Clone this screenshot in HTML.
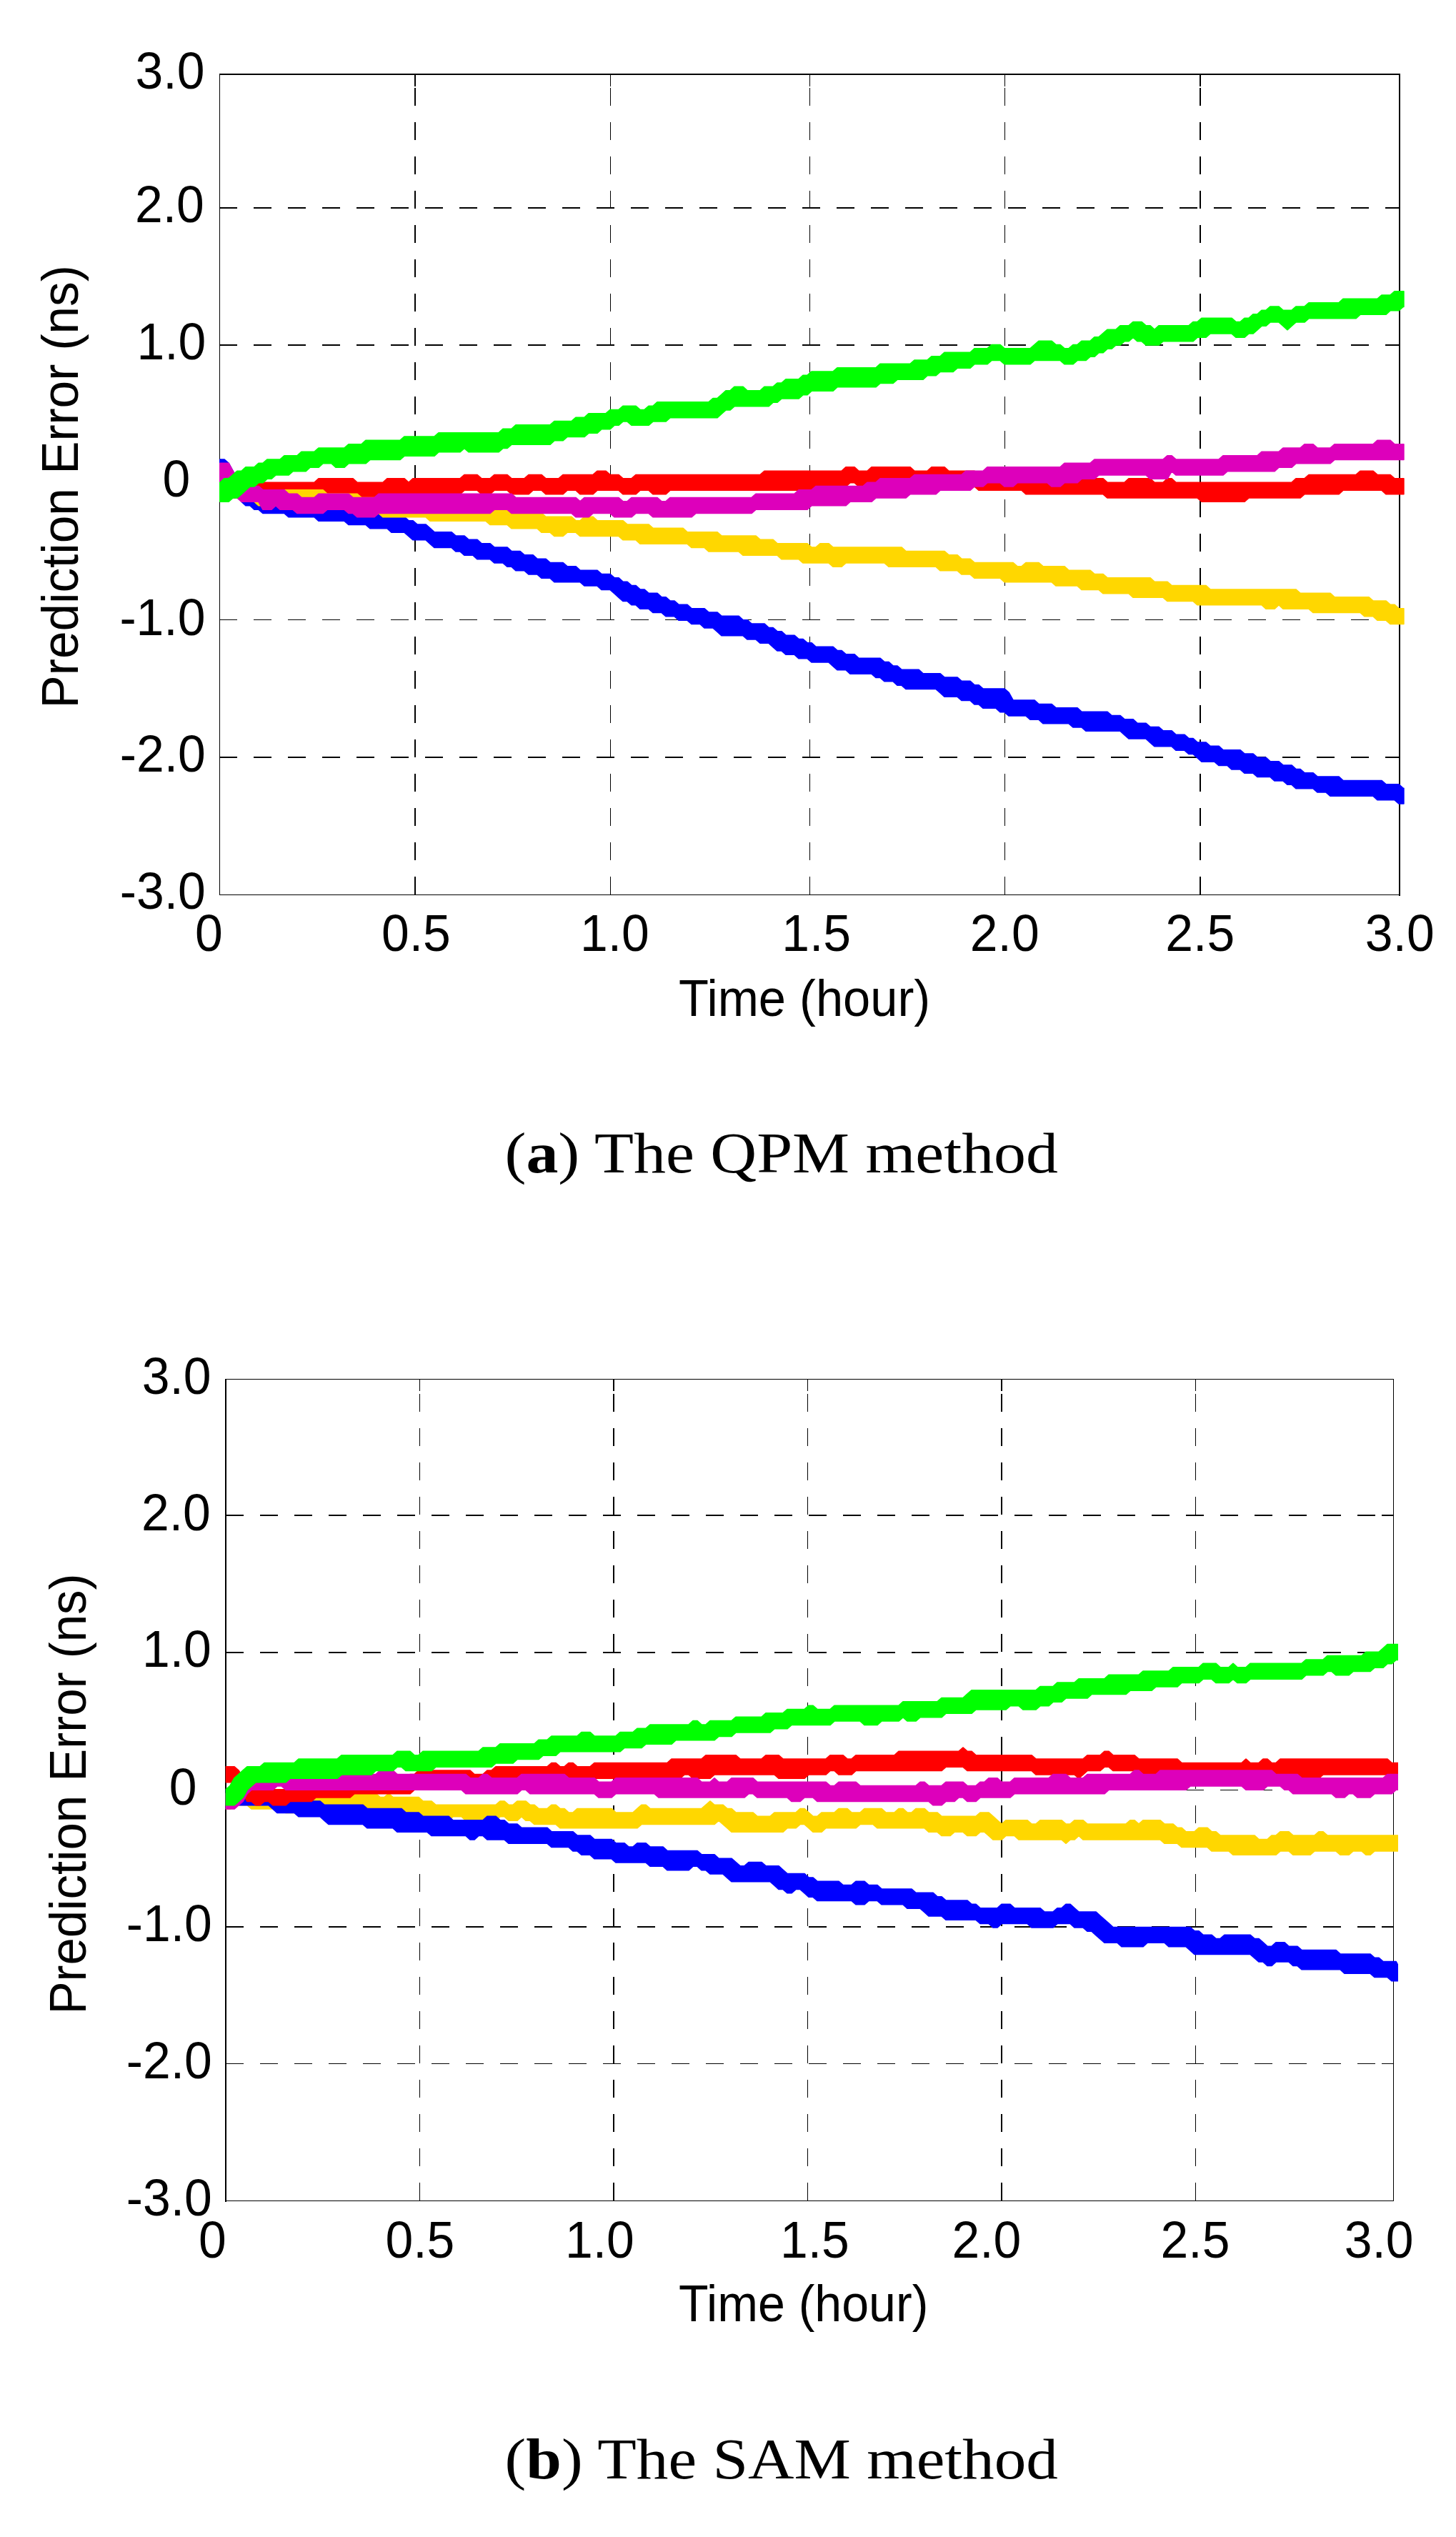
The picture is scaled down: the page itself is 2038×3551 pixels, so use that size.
<!DOCTYPE html>
<html><head><meta charset="utf-8"><title>Prediction error</title>
<style>html,body{margin:0;padding:0;background:#fff}svg{display:block}text{font-family:"Liberation Sans",sans-serif;fill:#000}text.cap{font-family:"Liberation Serif",serif}</style>
</head><body>
<svg width="2038" height="3551" viewBox="0 0 2038 3551">
<rect width="2038" height="3551" fill="#fff"/>
<g stroke="#000" fill="none" shape-rendering="crispEdges">
<line x1="581" y1="1252.2" x2="581" y2="104.4" stroke-width="2" stroke-dasharray="25 23"/>
<line x1="581" y1="104.4" x2="581" y2="120.9" stroke-width="2"/>
<line x1="581" y1="1252.2" x2="581" y2="1235.7" stroke-width="2"/>
<line x1="854.5" y1="1252.2" x2="854.5" y2="104.4" stroke-width="1" stroke-dasharray="25 23"/>
<line x1="854.5" y1="104.4" x2="854.5" y2="120.9" stroke-width="1"/>
<line x1="854.5" y1="1252.2" x2="854.5" y2="1235.7" stroke-width="1"/>
<line x1="1133.5" y1="1252.2" x2="1133.5" y2="104.4" stroke-width="1" stroke-dasharray="25 23"/>
<line x1="1133.5" y1="104.4" x2="1133.5" y2="120.9" stroke-width="1"/>
<line x1="1133.5" y1="1252.2" x2="1133.5" y2="1235.7" stroke-width="1"/>
<line x1="1406.5" y1="1252.2" x2="1406.5" y2="104.4" stroke-width="1" stroke-dasharray="25 23"/>
<line x1="1406.5" y1="104.4" x2="1406.5" y2="120.9" stroke-width="1"/>
<line x1="1406.5" y1="1252.2" x2="1406.5" y2="1235.7" stroke-width="1"/>
<line x1="1680" y1="1252.2" x2="1680" y2="104.4" stroke-width="2" stroke-dasharray="25 23"/>
<line x1="1680" y1="104.4" x2="1680" y2="120.9" stroke-width="2"/>
<line x1="1680" y1="1252.2" x2="1680" y2="1235.7" stroke-width="2"/>
<line x1="306.5" y1="291" x2="1959.2" y2="291" stroke-width="2" stroke-dasharray="25 23"/>
<line x1="1959.2" y1="291" x2="1942.7" y2="291" stroke-width="2"/>
<line x1="306.5" y1="483" x2="1959.2" y2="483" stroke-width="2" stroke-dasharray="25 23"/>
<line x1="1959.2" y1="483" x2="1942.7" y2="483" stroke-width="2"/>
<line x1="306.5" y1="675.5" x2="1959.2" y2="675.5" stroke-width="1" stroke-dasharray="25 23"/>
<line x1="1959.2" y1="675.5" x2="1942.7" y2="675.5" stroke-width="1"/>
<line x1="306.5" y1="867.5" x2="1959.2" y2="867.5" stroke-width="1" stroke-dasharray="25 23"/>
<line x1="1959.2" y1="867.5" x2="1942.7" y2="867.5" stroke-width="1"/>
<line x1="306.5" y1="1060" x2="1959.2" y2="1060" stroke-width="2" stroke-dasharray="25 23"/>
<line x1="1959.2" y1="1060" x2="1942.7" y2="1060" stroke-width="2"/>
</g>
<g stroke="#000" fill="none" shape-rendering="crispEdges" stroke-linecap="square">
<line x1="307.5" y1="104" x2="307.5" y2="1252.5" stroke-width="1"/>
<line x1="307.5" y1="104" x2="1959" y2="104" stroke-width="2"/>
<line x1="1959" y1="104" x2="1959" y2="1252.5" stroke-width="2"/>
<line x1="307.5" y1="1252.5" x2="1959" y2="1252.5" stroke-width="1"/>
</g>
<clipPath id="clip_p1"><rect x="307.0" y="104.4" width="1658.7" height="1147.8"/></clipPath>
<g clip-path="url(#clip_p1)">
<polygon points="308.0,643.3 314.0,643.3 320.0,648.6 326.0,659.4 332.0,670.0 338.0,680.8 344.0,686.1 350.0,686.1 356.0,691.4 362.0,691.4 368.0,696.8 398.0,696.8 404.0,702.1 446.0,702.1 452.0,707.5 482.0,707.5 488.0,712.9 512.0,712.9 518.0,718.2 542.0,718.2 548.0,723.5 566.0,723.5 572.0,728.9 578.0,728.9 584.0,734.2 596.0,734.2 602.0,739.6 608.0,744.9 632.0,744.9 638.0,750.3 650.0,750.3 656.0,755.6 668.0,755.6 674.0,761.0 686.0,761.0 692.0,766.3 710.0,766.3 716.0,771.7 728.0,771.7 734.0,777.0 746.0,777.0 752.0,782.4 764.0,782.4 770.0,787.8 788.0,787.8 794.0,793.1 806.0,793.1 812.0,798.4 836.0,798.4 842.0,803.8 854.0,803.8 860.0,809.1 866.0,809.1 872.0,814.5 878.0,814.5 884.0,819.8 890.0,819.8 896.0,825.2 902.0,825.2 908.0,830.5 920.0,830.5 926.0,835.9 932.0,835.9 938.0,841.2 944.0,841.2 950.0,846.6 962.0,846.6 968.0,851.9 986.0,851.9 992.0,857.3 1004.0,857.3 1010.0,862.6 1034.0,862.6 1040.0,868.0 1046.0,868.0 1052.0,873.3 1070.0,873.3 1076.0,878.7 1082.0,878.7 1088.0,884.0 1094.0,884.0 1100.0,889.4 1112.0,889.4 1118.0,894.8 1124.0,894.8 1130.0,900.1 1136.0,900.1 1142.0,905.4 1166.0,905.4 1172.0,910.8 1178.0,910.8 1184.0,916.1 1196.0,916.1 1202.0,921.5 1232.0,921.5 1238.0,926.8 1244.0,926.8 1250.0,932.2 1256.0,932.2 1262.0,937.5 1286.0,937.5 1292.0,942.9 1316.0,942.9 1322.0,948.2 1340.0,948.2 1346.0,953.6 1358.0,953.6 1364.0,958.9 1370.0,958.9 1376.0,964.3 1406.0,964.3 1412.0,969.6 1418.0,980.3 1448.0,980.3 1454.0,985.7 1472.0,985.7 1478.0,991.0 1508.0,991.0 1514.0,996.4 1550.0,996.4 1556.0,1001.8 1568.0,1001.8 1574.0,1007.1 1586.0,1007.1 1592.0,1012.4 1604.0,1012.4 1610.0,1017.8 1622.0,1017.8 1628.0,1023.1 1640.0,1023.1 1646.0,1028.5 1658.0,1028.5 1664.0,1033.8 1670.0,1033.8 1676.0,1039.2 1688.0,1039.2 1694.0,1044.5 1706.0,1044.5 1712.0,1049.9 1736.0,1049.9 1742.0,1055.2 1754.0,1055.2 1760.0,1060.6 1772.0,1060.6 1778.0,1065.9 1790.0,1065.9 1796.0,1071.3 1808.0,1071.3 1814.0,1076.7 1820.0,1076.7 1826.0,1082.0 1838.0,1082.0 1844.0,1087.3 1874.0,1087.3 1880.0,1092.7 1934.0,1092.7 1940.0,1098.0 1958.0,1098.0 1964.0,1103.4 1965.0,1103.4 1965.0,1124.8 1958.0,1124.8 1952.0,1119.4 1928.0,1119.4 1922.0,1114.1 1862.0,1114.1 1856.0,1108.8 1844.0,1108.8 1838.0,1103.4 1814.0,1103.4 1808.0,1098.0 1802.0,1098.0 1796.0,1092.7 1784.0,1092.7 1778.0,1087.3 1760.0,1087.3 1754.0,1082.0 1742.0,1082.0 1736.0,1076.7 1724.0,1076.7 1718.0,1071.3 1706.0,1071.3 1700.0,1065.9 1682.0,1065.9 1676.0,1060.6 1670.0,1055.2 1664.0,1055.2 1658.0,1049.9 1646.0,1049.9 1640.0,1044.5 1616.0,1044.5 1610.0,1039.2 1604.0,1033.8 1580.0,1033.8 1574.0,1028.5 1568.0,1023.1 1520.0,1023.1 1514.0,1017.8 1502.0,1017.8 1496.0,1012.4 1460.0,1012.4 1454.0,1007.1 1442.0,1007.1 1436.0,1001.8 1412.0,1001.8 1406.0,996.4 1400.0,996.4 1394.0,991.0 1376.0,991.0 1370.0,985.7 1364.0,985.7 1358.0,980.3 1346.0,980.3 1340.0,975.0 1322.0,975.0 1316.0,969.6 1310.0,964.3 1268.0,964.3 1262.0,958.9 1256.0,958.9 1250.0,953.6 1238.0,953.6 1232.0,948.2 1226.0,948.2 1220.0,942.9 1190.0,942.9 1184.0,937.5 1172.0,937.5 1166.0,932.2 1160.0,926.8 1136.0,926.8 1130.0,921.5 1118.0,921.5 1112.0,916.1 1100.0,916.1 1094.0,910.8 1088.0,910.8 1082.0,905.4 1076.0,900.1 1064.0,900.1 1058.0,894.8 1046.0,894.8 1040.0,889.4 1010.0,889.4 1004.0,884.0 998.0,878.7 986.0,878.7 980.0,873.3 968.0,873.3 962.0,868.0 950.0,868.0 944.0,862.6 932.0,862.6 926.0,857.3 914.0,857.3 908.0,851.9 896.0,851.9 890.0,846.6 884.0,846.6 878.0,841.2 872.0,841.2 866.0,835.9 860.0,830.5 854.0,825.2 842.0,825.2 836.0,819.8 818.0,819.8 812.0,814.5 776.0,814.5 770.0,809.1 758.0,809.1 752.0,803.8 740.0,803.8 734.0,798.4 722.0,798.4 716.0,793.1 710.0,793.1 704.0,787.8 692.0,787.8 686.0,782.4 668.0,782.4 662.0,777.0 650.0,777.0 644.0,771.7 638.0,771.7 632.0,766.3 608.0,766.3 602.0,761.0 596.0,755.6 578.0,755.6 572.0,750.3 566.0,744.9 548.0,744.9 542.0,739.6 518.0,739.6 512.0,734.2 488.0,734.2 482.0,728.9 446.0,728.9 440.0,723.5 404.0,723.5 398.0,718.2 368.0,718.2 362.0,712.9 356.0,712.9 350.0,707.5 344.0,707.5 338.0,702.1 332.0,691.4 326.0,680.8 320.0,670.0 314.0,664.7 308.0,664.7" fill="#0000ff" stroke="#0000ff" stroke-width="2" stroke-linejoin="round"/>
<polygon points="308.0,675.4 440.0,675.4 446.0,670.0 494.0,670.0 500.0,675.4 536.0,675.4 542.0,670.0 566.0,670.0 572.0,675.4 578.0,670.0 644.0,670.0 650.0,664.7 668.0,664.7 674.0,670.0 686.0,670.0 692.0,664.7 710.0,664.7 716.0,670.0 734.0,670.0 740.0,664.7 758.0,664.7 764.0,670.0 782.0,670.0 788.0,664.7 830.0,664.7 836.0,659.4 848.0,659.4 854.0,664.7 866.0,664.7 872.0,670.0 884.0,670.0 890.0,664.7 1064.0,664.7 1070.0,659.4 1178.0,659.4 1184.0,654.0 1196.0,654.0 1202.0,659.4 1214.0,659.4 1220.0,654.0 1274.0,654.0 1280.0,659.4 1298.0,659.4 1304.0,654.0 1322.0,654.0 1328.0,659.4 1364.0,659.4 1370.0,664.7 1436.0,664.7 1442.0,670.0 1544.0,670.0 1550.0,675.4 1574.0,675.4 1580.0,670.0 1610.0,670.0 1616.0,675.4 1628.0,675.4 1634.0,670.0 1640.0,670.0 1646.0,675.4 1808.0,675.4 1814.0,670.0 1826.0,670.0 1832.0,664.7 1898.0,664.7 1904.0,659.4 1922.0,659.4 1928.0,664.7 1946.0,664.7 1952.0,670.0 1965.0,670.0 1965.0,691.4 1940.0,691.4 1934.0,686.1 1880.0,686.1 1874.0,691.4 1826.0,691.4 1820.0,696.8 1748.0,696.8 1742.0,702.1 1682.0,702.1 1676.0,696.8 1550.0,696.8 1544.0,691.4 1436.0,691.4 1430.0,686.1 1370.0,686.1 1364.0,680.8 1328.0,680.8 1322.0,675.4 1304.0,675.4 1298.0,680.8 1274.0,680.8 1268.0,675.4 1220.0,675.4 1214.0,680.8 1202.0,680.8 1196.0,675.4 1190.0,675.4 1184.0,680.8 1154.0,680.8 1148.0,686.1 938.0,686.1 932.0,691.4 914.0,691.4 908.0,686.1 896.0,686.1 890.0,691.4 872.0,691.4 866.0,686.1 836.0,686.1 830.0,691.4 812.0,691.4 806.0,686.1 794.0,686.1 788.0,691.4 764.0,691.4 758.0,686.1 746.0,686.1 740.0,691.4 716.0,691.4 710.0,686.1 692.0,686.1 686.0,691.4 674.0,691.4 668.0,686.1 650.0,686.1 644.0,691.4 578.0,691.4 572.0,696.8 566.0,691.4 542.0,691.4 536.0,696.8 500.0,696.8 494.0,691.4 470.0,691.4 464.0,696.8 458.0,691.4 446.0,691.4 440.0,696.8 308.0,696.8" fill="#ff0000" stroke="#ff0000" stroke-width="2" stroke-linejoin="round"/>
<polygon points="308.0,659.4 314.0,659.4 320.0,664.7 326.0,670.0 332.0,675.4 338.0,675.4 344.0,680.8 356.0,680.8 362.0,686.1 452.0,686.1 458.0,691.4 500.0,691.4 506.0,696.8 530.0,696.8 536.0,702.1 596.0,702.1 602.0,707.5 686.0,707.5 692.0,712.9 716.0,712.9 722.0,718.2 758.0,718.2 764.0,723.5 800.0,723.5 806.0,728.9 812.0,728.9 818.0,723.5 830.0,723.5 836.0,728.9 872.0,728.9 878.0,734.2 908.0,734.2 914.0,739.6 956.0,739.6 962.0,744.9 1004.0,744.9 1010.0,750.3 1058.0,750.3 1064.0,755.6 1082.0,755.6 1088.0,761.0 1130.0,761.0 1136.0,766.3 1142.0,766.3 1148.0,761.0 1160.0,761.0 1166.0,766.3 1262.0,766.3 1268.0,771.7 1322.0,771.7 1328.0,777.0 1340.0,777.0 1346.0,782.4 1358.0,782.4 1364.0,787.8 1418.0,787.8 1424.0,793.1 1430.0,793.1 1436.0,787.8 1454.0,787.8 1460.0,793.1 1490.0,793.1 1496.0,798.4 1526.0,798.4 1532.0,803.8 1544.0,803.8 1550.0,809.1 1610.0,809.1 1616.0,814.5 1634.0,814.5 1640.0,819.8 1688.0,819.8 1694.0,825.2 1814.0,825.2 1820.0,830.5 1862.0,830.5 1868.0,835.9 1916.0,835.9 1922.0,841.2 1940.0,841.2 1946.0,846.6 1952.0,846.6 1958.0,851.9 1965.0,851.9 1965.0,873.3 1946.0,873.3 1940.0,868.0 1928.0,868.0 1922.0,862.6 1910.0,862.6 1904.0,857.3 1838.0,857.3 1832.0,851.9 1796.0,851.9 1790.0,846.6 1784.0,851.9 1772.0,851.9 1766.0,846.6 1676.0,846.6 1670.0,841.2 1634.0,841.2 1628.0,835.9 1586.0,835.9 1580.0,830.5 1544.0,830.5 1538.0,825.2 1514.0,825.2 1508.0,819.8 1478.0,819.8 1472.0,814.5 1406.0,814.5 1400.0,809.1 1364.0,809.1 1358.0,803.8 1346.0,803.8 1340.0,798.4 1316.0,798.4 1310.0,793.1 1244.0,793.1 1238.0,787.8 1184.0,787.8 1178.0,793.1 1166.0,793.1 1160.0,787.8 1124.0,787.8 1118.0,782.4 1094.0,782.4 1088.0,777.0 1040.0,777.0 1034.0,771.7 992.0,771.7 986.0,766.3 968.0,766.3 962.0,761.0 896.0,761.0 890.0,755.6 872.0,755.6 866.0,750.3 812.0,750.3 806.0,744.9 794.0,744.9 788.0,750.3 776.0,750.3 770.0,744.9 758.0,744.9 752.0,739.6 716.0,739.6 710.0,734.2 686.0,734.2 680.0,728.9 602.0,728.9 596.0,723.5 536.0,723.5 530.0,718.2 500.0,718.2 494.0,712.9 452.0,712.9 446.0,707.5 362.0,707.5 356.0,702.1 344.0,702.1 338.0,696.8 332.0,696.8 326.0,691.4 320.0,686.1 314.0,680.8 308.0,680.8" fill="#ffd700" stroke="#ffd700" stroke-width="2" stroke-linejoin="round"/>
<polygon points="308.0,648.6 320.0,648.6 326.0,659.4 332.0,670.0 338.0,675.4 344.0,680.8 362.0,680.8 368.0,686.1 398.0,686.1 404.0,691.4 416.0,691.4 422.0,696.8 440.0,696.8 446.0,691.4 488.0,691.4 494.0,696.8 524.0,696.8 530.0,691.4 716.0,691.4 722.0,696.8 806.0,696.8 812.0,702.1 818.0,696.8 866.0,696.8 872.0,702.1 878.0,702.1 884.0,696.8 920.0,696.8 926.0,702.1 932.0,702.1 938.0,696.8 1052.0,696.8 1058.0,691.4 1112.0,691.4 1118.0,686.1 1136.0,686.1 1142.0,680.8 1208.0,680.8 1214.0,675.4 1226.0,675.4 1232.0,670.0 1274.0,670.0 1280.0,664.7 1346.0,664.7 1352.0,659.4 1376.0,659.4 1382.0,654.0 1484.0,654.0 1490.0,648.6 1526.0,648.6 1532.0,643.3 1628.0,643.3 1634.0,637.9 1640.0,637.9 1646.0,643.3 1706.0,643.3 1712.0,637.9 1760.0,637.9 1766.0,632.6 1790.0,632.6 1796.0,627.2 1820.0,627.2 1826.0,621.9 1838.0,621.9 1844.0,627.2 1862.0,627.2 1868.0,621.9 1922.0,621.9 1928.0,616.5 1946.0,616.5 1952.0,621.9 1965.0,621.9 1965.0,643.3 1868.0,643.3 1862.0,648.6 1814.0,648.6 1808.0,654.0 1790.0,654.0 1784.0,659.4 1718.0,659.4 1712.0,664.7 1646.0,664.7 1640.0,659.4 1634.0,670.0 1610.0,670.0 1604.0,664.7 1538.0,664.7 1532.0,670.0 1514.0,670.0 1508.0,675.4 1490.0,675.4 1484.0,680.8 1472.0,680.8 1466.0,675.4 1424.0,675.4 1418.0,680.8 1406.0,680.8 1400.0,675.4 1382.0,675.4 1376.0,680.8 1364.0,680.8 1358.0,686.1 1316.0,686.1 1310.0,691.4 1274.0,691.4 1268.0,696.8 1226.0,696.8 1220.0,702.1 1190.0,702.1 1184.0,707.5 1136.0,707.5 1130.0,712.9 1058.0,712.9 1052.0,718.2 974.0,718.2 968.0,723.5 914.0,723.5 908.0,718.2 890.0,718.2 884.0,723.5 860.0,723.5 854.0,718.2 830.0,718.2 824.0,723.5 806.0,723.5 800.0,718.2 716.0,718.2 710.0,712.9 692.0,712.9 686.0,718.2 530.0,718.2 524.0,723.5 500.0,723.5 494.0,718.2 488.0,718.2 482.0,712.9 458.0,712.9 452.0,718.2 416.0,718.2 410.0,712.9 392.0,712.9 386.0,707.5 380.0,712.9 368.0,712.9 362.0,702.1 338.0,702.1 332.0,696.8 326.0,686.1 320.0,680.8 314.0,675.4 308.0,675.4" fill="#dd00bb" stroke="#dd00bb" stroke-width="2" stroke-linejoin="round"/>
<polygon points="308.0,675.4 314.0,670.0 320.0,670.0 326.0,664.7 332.0,659.4 338.0,659.4 344.0,654.0 356.0,654.0 362.0,648.6 368.0,648.6 374.0,643.3 392.0,643.3 398.0,637.9 416.0,637.9 422.0,632.6 440.0,632.6 446.0,627.2 482.0,627.2 488.0,621.9 506.0,621.9 512.0,616.5 560.0,616.5 566.0,611.2 608.0,611.2 614.0,605.9 698.0,605.9 704.0,600.5 716.0,600.5 722.0,595.1 770.0,595.1 776.0,589.8 800.0,589.8 806.0,584.5 818.0,584.5 824.0,579.1 848.0,579.1 854.0,573.8 866.0,573.8 872.0,568.4 890.0,568.4 896.0,573.8 902.0,573.8 908.0,568.4 914.0,568.4 920.0,563.0 992.0,563.0 998.0,557.7 1004.0,557.7 1010.0,552.4 1016.0,547.0 1022.0,547.0 1028.0,541.6 1040.0,541.6 1046.0,547.0 1064.0,547.0 1070.0,541.6 1082.0,541.6 1088.0,536.3 1094.0,536.3 1100.0,531.0 1118.0,531.0 1124.0,525.6 1130.0,525.6 1136.0,520.2 1166.0,520.2 1172.0,514.9 1226.0,514.9 1232.0,509.5 1274.0,509.5 1280.0,504.2 1298.0,504.2 1304.0,498.9 1316.0,498.9 1322.0,493.5 1358.0,493.5 1364.0,488.1 1382.0,488.1 1388.0,482.8 1400.0,482.8 1406.0,488.1 1442.0,488.1 1448.0,482.8 1454.0,477.4 1472.0,477.4 1478.0,482.8 1484.0,482.8 1490.0,488.1 1496.0,488.1 1502.0,482.8 1508.0,482.8 1514.0,477.4 1526.0,477.4 1532.0,472.1 1538.0,472.1 1544.0,466.8 1550.0,461.4 1562.0,461.4 1568.0,456.0 1580.0,456.0 1586.0,450.7 1598.0,450.7 1604.0,456.0 1610.0,456.0 1616.0,461.4 1622.0,456.0 1664.0,456.0 1670.0,450.7 1676.0,450.7 1682.0,445.4 1724.0,445.4 1730.0,450.7 1736.0,450.7 1742.0,445.4 1748.0,445.4 1754.0,440.0 1760.0,440.0 1766.0,434.6 1772.0,434.6 1778.0,429.3 1790.0,429.3 1796.0,434.6 1808.0,434.6 1814.0,429.3 1826.0,429.3 1832.0,423.9 1874.0,423.9 1880.0,418.6 1928.0,418.6 1934.0,413.2 1946.0,413.2 1952.0,407.9 1965.0,407.9 1965.0,429.3 1964.0,429.3 1958.0,434.6 1946.0,434.6 1940.0,440.0 1904.0,440.0 1898.0,445.4 1832.0,445.4 1826.0,450.7 1814.0,450.7 1808.0,456.0 1802.0,461.4 1796.0,456.0 1790.0,450.7 1778.0,450.7 1772.0,456.0 1766.0,456.0 1760.0,461.4 1754.0,466.8 1748.0,466.8 1742.0,472.1 1730.0,472.1 1724.0,466.8 1694.0,466.8 1688.0,472.1 1676.0,472.1 1670.0,477.4 1628.0,477.4 1622.0,482.8 1604.0,482.8 1598.0,477.4 1592.0,477.4 1586.0,472.1 1580.0,477.4 1574.0,477.4 1568.0,482.8 1562.0,482.8 1556.0,488.1 1550.0,488.1 1544.0,493.5 1538.0,493.5 1532.0,498.9 1526.0,498.9 1520.0,504.2 1508.0,504.2 1502.0,509.5 1490.0,509.5 1484.0,504.2 1448.0,504.2 1442.0,509.5 1406.0,509.5 1400.0,504.2 1388.0,504.2 1382.0,509.5 1364.0,509.5 1358.0,514.9 1340.0,514.9 1334.0,520.2 1316.0,520.2 1310.0,525.6 1298.0,525.6 1292.0,531.0 1256.0,531.0 1250.0,536.3 1232.0,536.3 1226.0,541.6 1172.0,541.6 1166.0,547.0 1136.0,547.0 1130.0,552.4 1124.0,552.4 1118.0,557.7 1094.0,557.7 1088.0,563.0 1082.0,563.0 1076.0,568.4 1028.0,568.4 1022.0,573.8 1016.0,573.8 1010.0,579.1 1004.0,584.5 938.0,584.5 932.0,589.8 914.0,589.8 908.0,595.1 884.0,595.1 878.0,589.8 872.0,589.8 866.0,595.1 860.0,595.1 854.0,600.5 842.0,600.5 836.0,605.9 824.0,605.9 818.0,611.2 794.0,611.2 788.0,616.5 776.0,616.5 770.0,621.9 716.0,621.9 710.0,627.2 704.0,627.2 698.0,632.6 656.0,632.6 650.0,627.2 644.0,632.6 614.0,632.6 608.0,637.9 566.0,637.9 560.0,643.3 518.0,643.3 512.0,648.6 488.0,648.6 482.0,654.0 470.0,654.0 464.0,648.6 452.0,648.6 446.0,654.0 434.0,654.0 428.0,659.4 410.0,659.4 404.0,664.7 386.0,664.7 380.0,670.0 374.0,670.0 368.0,675.4 362.0,675.4 356.0,680.8 350.0,680.8 344.0,686.1 338.0,691.4 332.0,696.8 326.0,696.8 320.0,702.1 308.0,702.1" fill="#00ff00" stroke="#00ff00" stroke-width="2" stroke-linejoin="round"/>
</g>
<text transform="translate(189.6,124.0) scale(1.01,1.05)" font-size="69">3.0</text>
<text transform="translate(188.9,310.7) scale(1.01,1.05)" font-size="69">2.0</text>
<text transform="translate(191.4,503.0) scale(1.01,1.05)" font-size="69">1.0</text>
<text transform="translate(227.6,695.2) scale(1.01,1.05)" font-size="69">0</text>
<text transform="translate(167.4,888.6) scale(1.01,1.05)" font-size="69">-1.0</text>
<text transform="translate(167.8,1079.9) scale(1.01,1.05)" font-size="69">-2.0</text>
<text transform="translate(167.8,1271.8) scale(1.01,1.05)" font-size="69">-3.0</text>
<text transform="translate(273.0,1330.5) scale(1.01,1.05)" font-size="69">0</text>
<text transform="translate(534.0,1330.5) scale(1.01,1.05)" font-size="69">0.5</text>
<text transform="translate(812.0,1330.5) scale(1.01,1.05)" font-size="69">1.0</text>
<text transform="translate(1094.2,1330.5) scale(1.01,1.05)" font-size="69">1.5</text>
<text transform="translate(1357.8,1330.5) scale(1.01,1.05)" font-size="69">2.0</text>
<text transform="translate(1631.3,1330.5) scale(1.01,1.05)" font-size="69">2.5</text>
<text transform="translate(1910.8,1330.5) scale(1.01,1.05)" font-size="69">3.0</text>
<text transform="translate(950.0,1422.0) scale(0.995,1.05)" font-size="69">Time (hour)</text>
<text transform="translate(109.4,991.4) rotate(-90) scale(1.005,1.04)" font-size="69">Prediction Error (ns)</text>
<g stroke="#000" fill="none" shape-rendering="crispEdges">
<line x1="587.5" y1="3080.3" x2="587.5" y2="1930.2" stroke-width="1" stroke-dasharray="25 23"/>
<line x1="587.5" y1="1930.2" x2="587.5" y2="1946.7" stroke-width="1"/>
<line x1="587.5" y1="3080.3" x2="587.5" y2="3063.8" stroke-width="1"/>
<line x1="859" y1="3080.3" x2="859" y2="1930.2" stroke-width="2" stroke-dasharray="25 23"/>
<line x1="859" y1="1930.2" x2="859" y2="1946.7" stroke-width="2"/>
<line x1="859" y1="3080.3" x2="859" y2="3063.8" stroke-width="2"/>
<line x1="1130.5" y1="3080.3" x2="1130.5" y2="1930.2" stroke-width="1" stroke-dasharray="25 23"/>
<line x1="1130.5" y1="1930.2" x2="1130.5" y2="1946.7" stroke-width="1"/>
<line x1="1130.5" y1="3080.3" x2="1130.5" y2="3063.8" stroke-width="1"/>
<line x1="1402" y1="3080.3" x2="1402" y2="1930.2" stroke-width="2" stroke-dasharray="25 23"/>
<line x1="1402" y1="1930.2" x2="1402" y2="1946.7" stroke-width="2"/>
<line x1="1402" y1="3080.3" x2="1402" y2="3063.8" stroke-width="2"/>
<line x1="1673.5" y1="3080.3" x2="1673.5" y2="1930.2" stroke-width="1" stroke-dasharray="25 23"/>
<line x1="1673.5" y1="1930.2" x2="1673.5" y2="1946.7" stroke-width="1"/>
<line x1="1673.5" y1="3080.3" x2="1673.5" y2="3063.8" stroke-width="1"/>
<line x1="316.2" y1="2121" x2="1950.5" y2="2121" stroke-width="2" stroke-dasharray="25 23"/>
<line x1="1950.5" y1="2121" x2="1934.0" y2="2121" stroke-width="2"/>
<line x1="316.2" y1="2313" x2="1950.5" y2="2313" stroke-width="2" stroke-dasharray="25 23"/>
<line x1="1950.5" y1="2313" x2="1934.0" y2="2313" stroke-width="2"/>
<line x1="316.2" y1="2505.5" x2="1950.5" y2="2505.5" stroke-width="1" stroke-dasharray="25 23"/>
<line x1="1950.5" y1="2505.5" x2="1934.0" y2="2505.5" stroke-width="1"/>
<line x1="316.2" y1="2697" x2="1950.5" y2="2697" stroke-width="2" stroke-dasharray="25 23"/>
<line x1="1950.5" y1="2697" x2="1934.0" y2="2697" stroke-width="2"/>
<line x1="316.2" y1="2888.5" x2="1950.5" y2="2888.5" stroke-width="1" stroke-dasharray="25 23"/>
<line x1="1950.5" y1="2888.5" x2="1934.0" y2="2888.5" stroke-width="1"/>
</g>
<g stroke="#000" fill="none" shape-rendering="crispEdges" stroke-linecap="square">
<line x1="316" y1="1930.5" x2="316" y2="3080.5" stroke-width="2"/>
<line x1="316" y1="1930.5" x2="1950.5" y2="1930.5" stroke-width="1"/>
<line x1="1950.5" y1="1930.5" x2="1950.5" y2="3080.5" stroke-width="1"/>
<line x1="316" y1="3080.5" x2="1950.5" y2="3080.5" stroke-width="1"/>
</g>
<clipPath id="clip_p2"><rect x="315.7" y="1930.2" width="1641.3" height="1150.1000000000001"/></clipPath>
<g clip-path="url(#clip_p2)">
<polygon points="316.0,2510.4 322.0,2510.4 328.0,2505.1 346.0,2505.1 352.0,2510.4 400.0,2510.4 406.0,2515.8 490.0,2515.8 496.0,2510.4 526.0,2510.4 532.0,2515.8 538.0,2515.8 544.0,2510.4 550.0,2515.8 586.0,2515.8 592.0,2521.2 604.0,2521.2 610.0,2526.5 694.0,2526.5 700.0,2521.2 706.0,2521.2 712.0,2526.5 718.0,2526.5 724.0,2521.2 736.0,2521.2 742.0,2526.5 748.0,2526.5 754.0,2531.8 766.0,2531.8 772.0,2526.5 778.0,2526.5 784.0,2531.8 790.0,2531.8 796.0,2537.2 802.0,2537.2 808.0,2531.8 856.0,2531.8 862.0,2537.2 886.0,2537.2 892.0,2531.8 898.0,2526.5 904.0,2526.5 910.0,2531.8 982.0,2531.8 988.0,2526.5 994.0,2521.2 1000.0,2526.5 1012.0,2526.5 1018.0,2531.8 1024.0,2531.8 1030.0,2537.2 1054.0,2537.2 1060.0,2542.5 1078.0,2542.5 1084.0,2537.2 1114.0,2537.2 1120.0,2531.8 1126.0,2531.8 1132.0,2537.2 1138.0,2542.5 1144.0,2542.5 1150.0,2537.2 1168.0,2537.2 1174.0,2531.8 1186.0,2531.8 1192.0,2537.2 1204.0,2537.2 1210.0,2531.8 1234.0,2531.8 1240.0,2537.2 1252.0,2537.2 1258.0,2531.8 1264.0,2531.8 1270.0,2537.2 1276.0,2537.2 1282.0,2531.8 1294.0,2531.8 1300.0,2537.2 1312.0,2537.2 1318.0,2542.5 1366.0,2542.5 1372.0,2537.2 1384.0,2537.2 1390.0,2542.5 1396.0,2547.9 1402.0,2553.2 1408.0,2547.9 1438.0,2547.9 1444.0,2553.2 1450.0,2553.2 1456.0,2547.9 1486.0,2547.9 1492.0,2553.2 1498.0,2553.2 1504.0,2547.9 1516.0,2547.9 1522.0,2553.2 1576.0,2553.2 1582.0,2547.9 1588.0,2547.9 1594.0,2553.2 1600.0,2547.9 1624.0,2547.9 1630.0,2553.2 1642.0,2553.2 1648.0,2558.6 1654.0,2558.6 1660.0,2563.9 1672.0,2563.9 1678.0,2558.6 1690.0,2558.6 1696.0,2563.9 1702.0,2563.9 1708.0,2569.3 1756.0,2569.3 1762.0,2574.7 1774.0,2574.7 1780.0,2569.3 1786.0,2569.3 1792.0,2563.9 1804.0,2563.9 1810.0,2569.3 1840.0,2569.3 1846.0,2563.9 1852.0,2563.9 1858.0,2569.3 1957.0,2569.3 1957.0,2590.7 1924.0,2590.7 1918.0,2596.0 1912.0,2596.0 1906.0,2590.7 1894.0,2590.7 1888.0,2596.0 1876.0,2596.0 1870.0,2590.7 1840.0,2590.7 1834.0,2596.0 1810.0,2596.0 1804.0,2590.7 1792.0,2590.7 1786.0,2596.0 1726.0,2596.0 1720.0,2590.7 1696.0,2590.7 1690.0,2585.3 1654.0,2585.3 1648.0,2580.0 1630.0,2580.0 1624.0,2574.7 1516.0,2574.7 1510.0,2569.3 1504.0,2574.7 1498.0,2574.7 1492.0,2580.0 1486.0,2574.7 1426.0,2574.7 1420.0,2569.3 1408.0,2569.3 1402.0,2574.7 1390.0,2574.7 1384.0,2569.3 1378.0,2563.9 1372.0,2563.9 1366.0,2569.3 1354.0,2569.3 1348.0,2563.9 1336.0,2563.9 1330.0,2569.3 1318.0,2569.3 1312.0,2563.9 1300.0,2563.9 1294.0,2558.6 1228.0,2558.6 1222.0,2553.2 1204.0,2553.2 1198.0,2558.6 1156.0,2558.6 1150.0,2563.9 1138.0,2563.9 1132.0,2558.6 1126.0,2553.2 1120.0,2553.2 1114.0,2558.6 1102.0,2558.6 1096.0,2563.9 1024.0,2563.9 1018.0,2558.6 1012.0,2553.2 1006.0,2547.9 1000.0,2553.2 898.0,2553.2 892.0,2558.6 784.0,2558.6 778.0,2553.2 748.0,2553.2 742.0,2547.9 736.0,2547.9 730.0,2542.5 724.0,2547.9 712.0,2547.9 706.0,2542.5 700.0,2542.5 694.0,2547.9 652.0,2547.9 646.0,2542.5 634.0,2542.5 628.0,2547.9 616.0,2547.9 610.0,2542.5 568.0,2542.5 562.0,2537.2 550.0,2537.2 544.0,2531.8 538.0,2537.2 532.0,2537.2 526.0,2531.8 496.0,2531.8 490.0,2537.2 400.0,2537.2 394.0,2531.8 352.0,2531.8 346.0,2526.5 328.0,2526.5 322.0,2531.8 316.0,2531.8" fill="#ffd700" stroke="#ffd700" stroke-width="2" stroke-linejoin="round"/>
<polygon points="316.0,2505.1 322.0,2510.4 352.0,2510.4 358.0,2515.8 382.0,2515.8 388.0,2521.2 418.0,2521.2 424.0,2515.8 430.0,2521.2 448.0,2521.2 454.0,2526.5 508.0,2526.5 514.0,2531.8 562.0,2531.8 568.0,2537.2 586.0,2537.2 592.0,2542.5 628.0,2542.5 634.0,2547.9 676.0,2547.9 682.0,2542.5 694.0,2542.5 700.0,2547.9 706.0,2547.9 712.0,2553.2 724.0,2553.2 730.0,2558.6 766.0,2558.6 772.0,2563.9 802.0,2563.9 808.0,2569.3 826.0,2569.3 832.0,2574.7 856.0,2574.7 862.0,2580.0 874.0,2580.0 880.0,2585.3 886.0,2585.3 892.0,2580.0 904.0,2580.0 910.0,2585.3 928.0,2585.3 934.0,2590.7 976.0,2590.7 982.0,2596.0 1000.0,2596.0 1006.0,2601.4 1024.0,2601.4 1030.0,2606.8 1036.0,2612.1 1042.0,2612.1 1048.0,2606.8 1066.0,2606.8 1072.0,2612.1 1090.0,2612.1 1096.0,2617.4 1102.0,2622.8 1126.0,2622.8 1132.0,2628.2 1138.0,2628.2 1144.0,2633.5 1174.0,2633.5 1180.0,2638.8 1192.0,2638.8 1198.0,2633.5 1210.0,2633.5 1216.0,2638.8 1228.0,2638.8 1234.0,2644.2 1276.0,2644.2 1282.0,2649.5 1306.0,2649.5 1312.0,2654.9 1318.0,2654.9 1324.0,2660.2 1354.0,2660.2 1360.0,2665.6 1366.0,2665.6 1372.0,2670.9 1396.0,2670.9 1402.0,2665.6 1414.0,2665.6 1420.0,2670.9 1456.0,2670.9 1462.0,2676.3 1474.0,2676.3 1480.0,2670.9 1486.0,2670.9 1492.0,2665.6 1498.0,2665.6 1504.0,2670.9 1510.0,2676.3 1534.0,2676.3 1540.0,2681.7 1546.0,2687.0 1552.0,2692.3 1558.0,2697.7 1666.0,2697.7 1672.0,2703.0 1678.0,2703.0 1684.0,2708.4 1696.0,2708.4 1702.0,2713.8 1708.0,2713.8 1714.0,2708.4 1750.0,2708.4 1756.0,2713.8 1762.0,2713.8 1768.0,2719.1 1774.0,2724.4 1780.0,2724.4 1786.0,2719.1 1798.0,2719.1 1804.0,2724.4 1816.0,2724.4 1822.0,2729.8 1870.0,2729.8 1876.0,2735.2 1918.0,2735.2 1924.0,2740.5 1930.0,2740.5 1936.0,2745.8 1954.0,2745.8 1957.0,2751.2 1957.0,2772.6 1948.0,2772.6 1942.0,2767.2 1924.0,2767.2 1918.0,2761.9 1882.0,2761.9 1876.0,2756.5 1822.0,2756.5 1816.0,2751.2 1810.0,2751.2 1804.0,2745.8 1786.0,2745.8 1780.0,2751.2 1774.0,2751.2 1768.0,2745.8 1762.0,2745.8 1756.0,2740.5 1750.0,2735.2 1672.0,2735.2 1666.0,2729.8 1660.0,2724.4 1636.0,2724.4 1630.0,2719.1 1606.0,2719.1 1600.0,2724.4 1570.0,2724.4 1564.0,2719.1 1546.0,2719.1 1540.0,2713.8 1534.0,2708.4 1528.0,2703.0 1522.0,2703.0 1516.0,2697.7 1504.0,2697.7 1498.0,2692.3 1480.0,2692.3 1474.0,2697.7 1444.0,2697.7 1438.0,2692.3 1402.0,2692.3 1396.0,2697.7 1390.0,2697.7 1384.0,2692.3 1372.0,2692.3 1366.0,2687.0 1324.0,2687.0 1318.0,2681.7 1300.0,2681.7 1294.0,2676.3 1288.0,2670.9 1270.0,2670.9 1264.0,2665.6 1234.0,2665.6 1228.0,2660.2 1216.0,2660.2 1210.0,2665.6 1198.0,2665.6 1192.0,2660.2 1144.0,2660.2 1138.0,2654.9 1132.0,2654.9 1126.0,2649.5 1120.0,2644.2 1114.0,2644.2 1108.0,2649.5 1102.0,2649.5 1096.0,2644.2 1090.0,2644.2 1084.0,2638.8 1078.0,2633.5 1024.0,2633.5 1018.0,2628.2 1012.0,2622.8 994.0,2622.8 988.0,2617.4 982.0,2617.4 976.0,2612.1 970.0,2612.1 964.0,2617.4 934.0,2617.4 928.0,2612.1 910.0,2612.1 904.0,2606.8 862.0,2606.8 856.0,2601.4 832.0,2601.4 826.0,2596.0 814.0,2596.0 808.0,2590.7 802.0,2590.7 796.0,2585.3 772.0,2585.3 766.0,2580.0 712.0,2580.0 706.0,2574.7 682.0,2574.7 676.0,2569.3 670.0,2569.3 664.0,2574.7 658.0,2574.7 652.0,2569.3 604.0,2569.3 598.0,2563.9 556.0,2563.9 550.0,2558.6 514.0,2558.6 508.0,2553.2 460.0,2553.2 454.0,2547.9 448.0,2542.5 418.0,2542.5 412.0,2537.2 388.0,2537.2 382.0,2531.8 376.0,2526.5 322.0,2526.5 316.0,2531.8" fill="#0000ff" stroke="#0000ff" stroke-width="2" stroke-linejoin="round"/>
<polygon points="316.0,2473.0 328.0,2473.0 334.0,2478.3 340.0,2489.0 346.0,2499.8 352.0,2499.8 358.0,2505.1 364.0,2499.8 376.0,2499.8 382.0,2505.1 400.0,2505.1 406.0,2499.8 436.0,2499.8 442.0,2494.4 490.0,2494.4 496.0,2489.0 550.0,2489.0 556.0,2483.7 562.0,2489.0 568.0,2489.0 574.0,2483.7 580.0,2483.7 586.0,2478.3 658.0,2478.3 664.0,2483.7 676.0,2483.7 682.0,2478.3 688.0,2478.3 694.0,2473.0 766.0,2473.0 772.0,2467.7 778.0,2467.7 784.0,2473.0 790.0,2473.0 796.0,2467.7 802.0,2467.7 808.0,2473.0 826.0,2473.0 832.0,2467.7 934.0,2467.7 940.0,2462.3 982.0,2462.3 988.0,2456.9 1030.0,2456.9 1036.0,2462.3 1066.0,2462.3 1072.0,2456.9 1090.0,2456.9 1096.0,2462.3 1156.0,2462.3 1162.0,2456.9 1180.0,2456.9 1186.0,2462.3 1192.0,2462.3 1198.0,2456.9 1252.0,2456.9 1258.0,2451.6 1342.0,2451.6 1348.0,2446.2 1354.0,2451.6 1360.0,2451.6 1366.0,2456.9 1444.0,2456.9 1450.0,2462.3 1516.0,2462.3 1522.0,2456.9 1540.0,2456.9 1546.0,2451.6 1552.0,2451.6 1558.0,2456.9 1588.0,2456.9 1594.0,2462.3 1648.0,2462.3 1654.0,2467.7 1738.0,2467.7 1744.0,2462.3 1750.0,2467.7 1762.0,2467.7 1768.0,2462.3 1774.0,2462.3 1780.0,2467.7 1786.0,2467.7 1792.0,2462.3 1942.0,2462.3 1948.0,2467.7 1957.0,2467.7 1957.0,2483.7 1852.0,2483.7 1846.0,2489.0 1810.0,2489.0 1804.0,2483.7 1792.0,2483.7 1786.0,2489.0 1780.0,2489.0 1774.0,2483.7 1768.0,2483.7 1762.0,2489.0 1750.0,2489.0 1744.0,2483.7 1738.0,2489.0 1654.0,2489.0 1648.0,2483.7 1594.0,2483.7 1588.0,2478.3 1558.0,2478.3 1552.0,2473.0 1546.0,2473.0 1540.0,2478.3 1522.0,2478.3 1516.0,2483.7 1510.0,2489.0 1504.0,2483.7 1450.0,2483.7 1444.0,2478.3 1354.0,2478.3 1348.0,2473.0 1324.0,2473.0 1318.0,2478.3 1198.0,2478.3 1192.0,2483.7 1174.0,2483.7 1168.0,2478.3 1162.0,2478.3 1156.0,2483.7 1132.0,2483.7 1126.0,2489.0 1090.0,2489.0 1084.0,2483.7 1000.0,2483.7 994.0,2489.0 970.0,2489.0 964.0,2483.7 958.0,2483.7 952.0,2489.0 832.0,2489.0 826.0,2494.4 808.0,2494.4 802.0,2489.0 796.0,2489.0 790.0,2494.4 778.0,2494.4 772.0,2489.0 766.0,2494.4 700.0,2494.4 694.0,2499.8 682.0,2499.8 676.0,2505.1 664.0,2505.1 658.0,2499.8 586.0,2499.8 580.0,2505.1 574.0,2510.4 496.0,2510.4 490.0,2515.8 442.0,2515.8 436.0,2521.2 406.0,2521.2 400.0,2526.5 382.0,2526.5 376.0,2521.2 370.0,2521.2 364.0,2526.5 358.0,2526.5 352.0,2521.2 346.0,2521.2 340.0,2510.4 334.0,2499.8 328.0,2494.4 316.0,2494.4" fill="#ff0000" stroke="#ff0000" stroke-width="2" stroke-linejoin="round"/>
<polygon points="316.0,2510.4 328.0,2510.4 334.0,2505.1 340.0,2499.8 346.0,2494.4 382.0,2494.4 388.0,2489.0 424.0,2489.0 430.0,2483.7 526.0,2483.7 532.0,2478.3 550.0,2478.3 556.0,2483.7 652.0,2483.7 658.0,2489.0 670.0,2489.0 676.0,2483.7 682.0,2483.7 688.0,2489.0 724.0,2489.0 730.0,2483.7 790.0,2483.7 796.0,2489.0 832.0,2489.0 838.0,2494.4 856.0,2494.4 862.0,2489.0 976.0,2489.0 982.0,2494.4 994.0,2494.4 1000.0,2489.0 1006.0,2494.4 1018.0,2494.4 1024.0,2489.0 1054.0,2489.0 1060.0,2494.4 1156.0,2494.4 1162.0,2499.8 1168.0,2499.8 1174.0,2494.4 1198.0,2494.4 1204.0,2499.8 1282.0,2499.8 1288.0,2494.4 1294.0,2494.4 1300.0,2499.8 1318.0,2499.8 1324.0,2494.4 1348.0,2494.4 1354.0,2499.8 1366.0,2499.8 1372.0,2494.4 1378.0,2494.4 1384.0,2489.0 1396.0,2489.0 1402.0,2494.4 1414.0,2494.4 1420.0,2489.0 1468.0,2489.0 1474.0,2483.7 1492.0,2483.7 1498.0,2489.0 1516.0,2489.0 1522.0,2483.7 1582.0,2483.7 1588.0,2478.3 1594.0,2478.3 1600.0,2483.7 1618.0,2483.7 1624.0,2478.3 1780.0,2478.3 1786.0,2483.7 1816.0,2483.7 1822.0,2489.0 1936.0,2489.0 1942.0,2483.7 1957.0,2483.7 1957.0,2505.1 1954.0,2505.1 1948.0,2510.4 1924.0,2510.4 1918.0,2515.8 1900.0,2515.8 1894.0,2510.4 1888.0,2510.4 1882.0,2515.8 1870.0,2515.8 1864.0,2510.4 1810.0,2510.4 1804.0,2505.1 1798.0,2505.1 1792.0,2499.8 1774.0,2499.8 1768.0,2505.1 1744.0,2505.1 1738.0,2499.8 1666.0,2499.8 1660.0,2505.1 1552.0,2505.1 1546.0,2510.4 1420.0,2510.4 1414.0,2515.8 1372.0,2515.8 1366.0,2521.2 1354.0,2521.2 1348.0,2515.8 1342.0,2515.8 1336.0,2521.2 1324.0,2521.2 1318.0,2526.5 1306.0,2526.5 1300.0,2521.2 1144.0,2521.2 1138.0,2515.8 1126.0,2515.8 1120.0,2521.2 1108.0,2521.2 1102.0,2515.8 1060.0,2515.8 1054.0,2510.4 1048.0,2510.4 1042.0,2515.8 922.0,2515.8 916.0,2510.4 862.0,2510.4 856.0,2515.8 838.0,2515.8 832.0,2510.4 742.0,2510.4 736.0,2505.1 730.0,2505.1 724.0,2510.4 652.0,2510.4 646.0,2505.1 400.0,2505.1 394.0,2499.8 388.0,2499.8 382.0,2505.1 352.0,2505.1 346.0,2510.4 340.0,2521.2 334.0,2526.5 328.0,2531.8 316.0,2531.8" fill="#dd00bb" stroke="#dd00bb" stroke-width="2" stroke-linejoin="round"/>
<polygon points="316.0,2505.1 322.0,2499.8 328.0,2489.0 334.0,2483.7 340.0,2478.3 346.0,2473.0 364.0,2473.0 370.0,2467.7 412.0,2467.7 418.0,2462.3 472.0,2462.3 478.0,2456.9 550.0,2456.9 556.0,2451.6 574.0,2451.6 580.0,2456.9 586.0,2456.9 592.0,2451.6 670.0,2451.6 676.0,2446.2 694.0,2446.2 700.0,2440.9 748.0,2440.9 754.0,2435.5 766.0,2435.5 772.0,2430.2 808.0,2430.2 814.0,2424.8 826.0,2424.8 832.0,2430.2 862.0,2430.2 868.0,2424.8 886.0,2424.8 892.0,2419.5 904.0,2419.5 910.0,2414.2 964.0,2414.2 970.0,2408.8 976.0,2408.8 982.0,2414.2 988.0,2414.2 994.0,2408.8 1024.0,2408.8 1030.0,2403.4 1066.0,2403.4 1072.0,2398.1 1096.0,2398.1 1102.0,2392.8 1126.0,2392.8 1132.0,2387.4 1138.0,2387.4 1144.0,2392.8 1162.0,2392.8 1168.0,2387.4 1258.0,2387.4 1264.0,2382.0 1312.0,2382.0 1318.0,2376.7 1348.0,2376.7 1354.0,2371.3 1360.0,2366.0 1450.0,2366.0 1456.0,2360.7 1474.0,2360.7 1480.0,2355.3 1504.0,2355.3 1510.0,2349.9 1546.0,2349.9 1552.0,2344.6 1594.0,2344.6 1600.0,2339.2 1636.0,2339.2 1642.0,2333.9 1678.0,2333.9 1684.0,2328.5 1702.0,2328.5 1708.0,2333.9 1720.0,2333.9 1726.0,2328.5 1732.0,2333.9 1744.0,2333.9 1750.0,2328.5 1822.0,2328.5 1828.0,2323.2 1852.0,2323.2 1858.0,2317.8 1906.0,2317.8 1912.0,2312.5 1930.0,2312.5 1936.0,2307.2 1942.0,2301.8 1957.0,2301.8 1957.0,2323.2 1954.0,2323.2 1948.0,2328.5 1942.0,2328.5 1936.0,2333.9 1924.0,2333.9 1918.0,2339.2 1894.0,2339.2 1888.0,2344.6 1870.0,2344.6 1864.0,2339.2 1858.0,2339.2 1852.0,2344.6 1828.0,2344.6 1822.0,2349.9 1750.0,2349.9 1744.0,2355.3 1732.0,2355.3 1726.0,2349.9 1720.0,2355.3 1702.0,2355.3 1696.0,2349.9 1684.0,2349.9 1678.0,2355.3 1654.0,2355.3 1648.0,2360.7 1618.0,2360.7 1612.0,2366.0 1582.0,2366.0 1576.0,2371.3 1528.0,2371.3 1522.0,2376.7 1492.0,2376.7 1486.0,2382.0 1474.0,2382.0 1468.0,2387.4 1456.0,2387.4 1450.0,2392.8 1432.0,2392.8 1426.0,2387.4 1414.0,2387.4 1408.0,2392.8 1366.0,2392.8 1360.0,2398.1 1324.0,2398.1 1318.0,2403.4 1288.0,2403.4 1282.0,2408.8 1270.0,2408.8 1264.0,2403.4 1258.0,2408.8 1234.0,2408.8 1228.0,2414.2 1210.0,2414.2 1204.0,2408.8 1168.0,2408.8 1162.0,2414.2 1108.0,2414.2 1102.0,2419.5 1084.0,2419.5 1078.0,2424.8 1030.0,2424.8 1024.0,2430.2 1006.0,2430.2 1000.0,2435.5 946.0,2435.5 940.0,2440.9 904.0,2440.9 898.0,2446.2 874.0,2446.2 868.0,2451.6 784.0,2451.6 778.0,2456.9 760.0,2456.9 754.0,2462.3 724.0,2462.3 718.0,2467.7 694.0,2467.7 688.0,2473.0 610.0,2473.0 604.0,2478.3 568.0,2478.3 562.0,2473.0 556.0,2473.0 550.0,2478.3 526.0,2478.3 520.0,2483.7 478.0,2483.7 472.0,2489.0 406.0,2489.0 400.0,2494.4 358.0,2494.4 352.0,2499.8 346.0,2505.1 340.0,2515.8 334.0,2521.2 328.0,2526.5 316.0,2526.5" fill="#00ff00" stroke="#00ff00" stroke-width="2" stroke-linejoin="round"/>
</g>
<text transform="translate(198.7,1950.5) scale(1.01,1.05)" font-size="69">3.0</text>
<text transform="translate(197.9,2141.8) scale(1.01,1.05)" font-size="69">2.0</text>
<text transform="translate(198.9,2333.2) scale(1.01,1.05)" font-size="69">1.0</text>
<text transform="translate(236.7,2526.0) scale(1.01,1.05)" font-size="69">0</text>
<text transform="translate(176.8,2716.5) scale(1.01,1.05)" font-size="69">-1.0</text>
<text transform="translate(176.8,2909.0) scale(1.01,1.05)" font-size="69">-2.0</text>
<text transform="translate(176.8,3101.0) scale(1.01,1.05)" font-size="69">-3.0</text>
<text transform="translate(278.0,3159.5) scale(1.01,1.05)" font-size="69">0</text>
<text transform="translate(539.5,3159.5) scale(1.01,1.05)" font-size="69">0.5</text>
<text transform="translate(791.0,3159.5) scale(1.01,1.05)" font-size="69">1.0</text>
<text transform="translate(1092.0,3159.5) scale(1.01,1.05)" font-size="69">1.5</text>
<text transform="translate(1332.4,3159.5) scale(1.01,1.05)" font-size="69">2.0</text>
<text transform="translate(1624.6,3159.5) scale(1.01,1.05)" font-size="69">2.5</text>
<text transform="translate(1881.7,3159.5) scale(1.01,1.05)" font-size="69">3.0</text>
<text transform="translate(950.0,3248.7) scale(0.987,1.05)" font-size="69">Time (hour)</text>
<text transform="translate(119.7,2819.6) rotate(-90) scale(1.0,1.04)" font-size="69">Prediction Error (ns)</text>
<g transform="translate(711.0,1640.7) scale(1.1232,1) translate(-4,0)"><text x="0" y="0" class="cap" font-size="80" xml:space="preserve">(<tspan font-weight="bold">a</tspan>) The QPM method</text></g>
<g transform="translate(711.0,3469.3) scale(1.1159,1) translate(-4,0)"><text x="0" y="0" class="cap" font-size="80" xml:space="preserve">(<tspan font-weight="bold">b</tspan>) The SAM method</text></g>
</svg>
</body></html>
